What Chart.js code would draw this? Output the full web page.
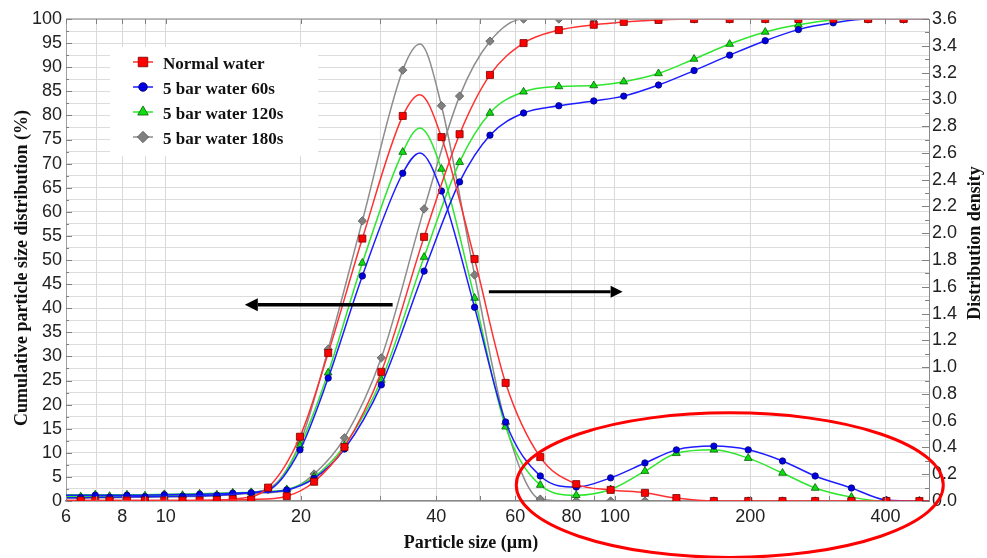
<!DOCTYPE html>
<html>
<head>
<meta charset="utf-8">
<script src="https://cdn.jsdelivr.net/npm/chart.js"></script>
<style>
  html, body { margin: 0; padding: 0; background: #fff; }
  #wrap { position: relative; width: 987px; height: 558px; }
</style>
</head>
<body>
<div id="wrap"><canvas id="chart"></canvas></div>
<script>
// particle sizes (µm) of the cumulative samples (first/last = axis edges, no marker)
const cumSizes = [6, 6.47, 7.5, 8.99, 10.9, 13.0, 15.5, 18.6, 21.4, 25.0, 30.2, 37.6, 45.1, 52.7,
  62.6, 75, 89.7, 104.6, 125, 150, 180, 216, 256, 306, 366, 439, 500];
// cumulative particle size distribution (%)
const cumNormal = [0.1, 0.1, 0.1, 0.1, 0.1, 0.2, 0.3, 1.0, 4.0, 11.2, 26.8, 54.8, 76.1, 88.4,
  95.0, 97.7, 98.8, 99.4, 99.8, 100, 100, 100, 100, 100, 100, 100, 100];
const cum60 = [0.7, 0.7, 0.8, 0.9, 1.0, 1.2, 1.7, 2.3, 4.7, 10.8, 24.1, 47.7, 66.2, 75.9,
  80.5, 82.0, 83.0, 84.0, 86.3, 89.3, 92.5, 95.5, 97.8, 99.2, 100, 100, 100];
const cum120 = [0.9, 0.9, 1.0, 1.1, 1.2, 1.3, 1.8, 2.4, 5.0, 11.5, 25.1, 50.6, 70.3, 80.5,
  84.9, 86.0, 86.2, 87.0, 88.7, 91.7, 94.8, 97.3, 98.8, 99.8, 100, 100, 100];
const cum180 = [0.6, 0.6, 0.7, 0.8, 0.9, 1.1, 1.6, 2.2, 5.6, 13.1, 29.7, 60.6, 84.0, 95.4,
  100, 100, 100, 100, 100, 100, 100, 100, 100, 100, 100, 100, 100];

// particle sizes (µm) of the density samples (36.8 = peak, no marker)
const denSizes = [6, 6.97, 8.2, 9.93, 11.9, 14.1, 16.9, 19.9, 23.0, 27.4, 33.7, 36.8, 41.1, 48.7,
  57.1, 68.2, 82, 97.8, 116.6, 137, 166, 198, 236, 279, 336, 402, 476, 500];
// distribution density
const denNormal = [0.004, 0.004, 0.004, 0.004, 0.004, 0.014, 0.10, 0.48, 1.105, 1.96, 2.876, 3.035, 2.718, 1.807,
  0.882, 0.328, 0.126, 0.083, 0.061, 0.022, 0, 0, 0, 0, 0, 0, 0, 0];
const den60 = [0.043, 0.043, 0.043, 0.047, 0.05, 0.058, 0.083, 0.382, 0.918, 1.681, 2.448, 2.6, 2.315, 1.447,
  0.59, 0.187, 0.104, 0.173, 0.284, 0.382, 0.41, 0.382, 0.299, 0.187, 0.097, 0.007, 0, 0];
const den120 = [0.047, 0.047, 0.047, 0.05, 0.054, 0.061, 0.083, 0.414, 0.958, 1.778, 2.606, 2.786, 2.48, 1.516,
  0.554, 0.119, 0.043, 0.086, 0.223, 0.356, 0.382, 0.32, 0.209, 0.097, 0.029, 0, 0, 0];
const den180 = [0.04, 0.04, 0.04, 0.043, 0.047, 0.054, 0.09, 0.432, 1.134, 2.092, 3.218, 3.413, 2.952, 1.688,
  0.576, 0.014, 0, 0, 0, 0, 0, 0, 0, 0, 0, 0, 0, 0];

const seriesNames = ["Normal water", "5 bar water 60s", "5 bar water 120s", "5 bar water 180s"];
const plainSizes = [6, 36.8, 500];

// axis ticks
const gridSizes = [6, 7, 8, 9, 10, 20, 30, 40, 50, 60, 70, 80, 90, 100, 200, 300, 400, 500];
const labelSizes = [6, 8, 10, 20, 40, 60, 80, 100, 200, 400];

const styles = [
  { line: "#ff3030", fill: "#ff0000", edge: "#7a0000", shape: "rect", r: 5 },
  { line: "#1c1cff", fill: "#0000e0", edge: "#00007a", shape: "circle", r: 3.2 },
  { line: "#2ee62e", fill: "#10dd10", edge: "#006000", shape: "triangle", r: 4.5 },
  { line: "#8c8c8c", fill: "#808080", edge: "#555555", shape: "rectRot", r: 4.2 },
];

const toPoints = (sizes, vals) => sizes.map((s, i) => ({ x: s, y: vals[i] }));

function makeSet(label, sizes, vals, st, axis) {
  return {
    label,
    data: toPoints(sizes, vals),
    yAxisID: axis,
    borderColor: st.line,
    borderWidth: 1.5,
    pointStyle: st.shape,
    pointRadius: (c) => (plainSizes.includes(c.raw.x) ? 0 : st.r),
    pointBackgroundColor: st.fill,
    pointBorderColor: st.edge,
    pointBorderWidth: 0.8,
    cubicInterpolationMode: "monotone",
    clip: 0,
  };
}

const cums = [cumNormal, cum60, cum120, cum180];
const dens = [denNormal, den60, den120, den180];
const datasets = [];
seriesNames.forEach((n, i) => {
  datasets.push(makeSet(n, cumSizes, cums[i], styles[i], "y"));
  datasets.push(makeSet(n + " density", denSizes, dens[i], styles[i], "y2"));
});

const serif = '"Liberation Serif", "Times New Roman", serif';

const decorations = {
  id: "decorations",
  afterDraw(chart) {
    const { ctx, chartArea: a, scales } = chart;
    const { x, y, y2 } = scales;
    ctx.save();

    // frame top line
    ctx.strokeStyle = "#a8a8a8";
    ctx.lineWidth = 1.5;
    ctx.beginPath();
    ctx.moveTo(a.left, a.top);
    ctx.lineTo(a.right, a.top);
    ctx.stroke();

    // inward tick marks
    ctx.strokeStyle = "#808080";
    ctx.lineWidth = 1;
    ctx.beginPath();
    for (let v = 0; v <= 100; v += 2.5) {
      const py = Math.round(y.getPixelForValue(v)) + 0.5;
      const len = v % 5 === 0 ? 6 : 3;
      ctx.moveTo(a.left, py);
      ctx.lineTo(a.left + len, py);
    }
    for (let k = 0; k <= 36; k++) {
      const py = Math.round(y2.getPixelForValue(k / 10)) + 0.5;
      const len = k % 2 === 0 ? 7 : 4;
      ctx.moveTo(a.right, py);
      ctx.lineTo(a.right - len, py);
    }
    gridSizes.forEach((s) => {
      const px = Math.round(x.getPixelForValue(s)) + 0.5;
      ctx.moveTo(px, a.bottom);
      ctx.lineTo(px, a.bottom - 5);
      ctx.moveTo(px, a.top);
      ctx.lineTo(px, a.top + 5);
    });
    ctx.stroke();

    // legend
    ctx.fillStyle = "#fff";
    ctx.fillRect(110, 47, 208, 109);
    ctx.font = "bold 17px " + serif;
    ctx.textBaseline = "middle";
    seriesNames.forEach((n, i) => {
      const st = styles[i];
      const ly = 62 + i * 25;
      ctx.strokeStyle = st.line;
      ctx.lineWidth = 1.5;
      ctx.beginPath();
      ctx.moveTo(133, ly);
      ctx.lineTo(153, ly);
      ctx.stroke();
      ctx.fillStyle = st.fill;
      ctx.strokeStyle = st.edge;
      ctx.lineWidth = 0.8;
      Chart.helpers.drawPoint(ctx, { pointStyle: st.shape, radius: st.r * 1.35, rotation: 0, borderWidth: 0.8 }, 143, ly);
      ctx.fillStyle = "#111";
      ctx.fillText(n, 163, ly + 3);
    });

    // arrows
    const arrow = (from, to, val, w, head) => {
      const x1 = x.getPixelForValue(from), x2 = x.getPixelForValue(to);
      const py = y.getPixelForValue(val);
      const dir = Math.sign(x2 - x1);
      ctx.strokeStyle = "#000";
      ctx.fillStyle = "#000";
      ctx.lineWidth = w;
      ctx.beginPath();
      ctx.moveTo(x1, py);
      ctx.lineTo(x2 - dir * head, py);
      ctx.stroke();
      ctx.beginPath();
      ctx.moveTo(x2, py);
      ctx.lineTo(x2 - dir * head, py - head * 0.5);
      ctx.lineTo(x2 - dir * head, py + head * 0.5);
      ctx.closePath();
      ctx.fill();
    };
    arrow(32, 15.0, 40.7, 3.5, 13);
    arrow(52.4, 104, 43.4, 3, 12);

    // red ellipse around the coarse fraction
    const ex1 = x.getPixelForValue(60.3), ex2 = x.getPixelForValue(538);
    const ecy = y.getPixelForValue(3.3), etop = y.getPixelForValue(18.3);
    ctx.strokeStyle = "#ff0000";
    ctx.lineWidth = 3;
    ctx.beginPath();
    ctx.ellipse((ex1 + ex2) / 2, ecy, (ex2 - ex1) / 2, ecy - etop, 0, 0, Math.PI * 2);
    ctx.stroke();

    // axis titles
    ctx.fillStyle = "#111";
    ctx.font = "bold 18px " + serif;
    ctx.textAlign = "center";
    ctx.textBaseline = "middle";
    ctx.fillText("Particle size (µm)", 471, 543);
    ctx.save();
    ctx.translate(22, 268);
    ctx.rotate(-Math.PI / 2);
    ctx.fillText("Cumulative particle size distribution (%)", 0, 0);
    ctx.restore();
    ctx.save();
    ctx.translate(975, 243);
    ctx.rotate(-Math.PI / 2);
    ctx.fillText("Distribution density", 0, 0);
    ctx.restore();

    ctx.restore();
  },
};

Chart.defaults.font.family = '"Liberation Sans", Arial, sans-serif';

new Chart(document.getElementById("chart"), {
  type: "line",
  data: { datasets },
  options: {
    responsive: true,
    maintainAspectRatio: false,
    animation: false,
    layout: { padding: { top: 19, left: 0, right: 0, bottom: 0 } },
    plugins: { legend: { display: false }, tooltip: { enabled: false } },
    scales: {
      x: {
        type: "logarithmic",
        min: 6,
        max: 500,
        afterBuildTicks: (s) => { s.ticks = gridSizes.map((v) => ({ value: v })); },
        afterFit: (s) => { s.height = 57; },
        ticks: {
          autoSkip: false,
          maxRotation: 0,
          padding: 5,
          color: "#222",
          font: { size: 18 },
          callback: (v) => (labelSizes.includes(v) ? String(v) : ""),
        },
        grid: { color: "#d9d9d9", drawTicks: false },
        border: { color: "#8a8a8a", width: 1.5 },
      },
      y: {
        position: "left",
        min: 0,
        max: 100,
        afterFit: (s) => { s.width = 66; },
        ticks: {
          stepSize: 2.5,
          autoSkip: false,
          padding: 4,
          color: "#222",
          font: { size: 18 },
          callback: (v) => (v % 5 === 0 ? String(v) : ""),
        },
        grid: { color: "#dcdcdc", drawTicks: false },
        border: { color: "#a0a0a0" },
      },
      y2: {
        position: "right",
        min: 0,
        max: 3.6,
        afterFit: (s) => { s.width = 58; },
        ticks: {
          stepSize: 0.2,
          autoSkip: false,
          padding: 3,
          color: "#222",
          font: { size: 18 },
          callback: (v) => Number(v).toFixed(1),
        },
        grid: { drawOnChartArea: false, drawTicks: false },
        border: { color: "#8a8a8a" },
      },
    },
  },
  plugins: [decorations],
});
</script>
</body>
</html>
